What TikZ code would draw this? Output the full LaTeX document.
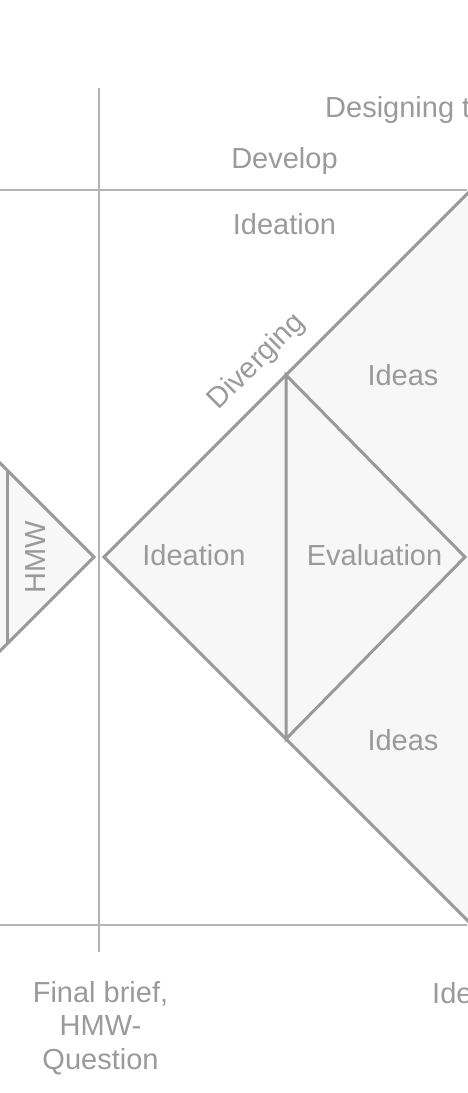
\documentclass[tikz,border=0pt]{standalone}
\usepackage{fontspec}
\setmainfont{Liberation Sans}
\definecolor{linegray}{HTML}{999999}
\definecolor{axisgray}{HTML}{B4B4B4}
\definecolor{fillgray}{HTML}{F7F7F7}
\definecolor{textgray}{HTML}{9A9A9A}
\tikzset{
  phase/.style={draw=linegray, line width=3pt, fill=fillgray, line join=miter},
  divider/.style={draw=linegray, line width=3pt},
  axis/.style={draw=axisgray, line width=1.3pt},
  lbl/.style={text=textgray, font=\fontsize{29}{33.5}\selectfont, inner sep=0pt, align=center},
}
\begin{document}
\begin{tikzpicture}[x=1pt,y=-1pt]
\useasboundingbox (0,0) rectangle (467,1093);
% grid lines
\coordinate (vTop) at (99,88);
\coordinate (vBot) at (99,952);
\draw[axis] (vTop) -- (vBot);
\draw[axis] (0,190) -- (467,190);
\draw[axis] (0,925) -- (467,925);
% converging part (HMW)
\coordinate (hmwTip) at (94,557);
\draw[phase] (hmwTip) -- (-120,343) -- (-120,771) -- cycle;
\draw[divider] (7,470) -- (7,644);
% diverging part (ideation)
\coordinate (ideaTip) at (104,557);
\coordinate (ideaTop) at (470.5,190.5);
\coordinate (ideaBot) at (470.5,923.5);
\draw[phase] (ideaTip) -- (ideaTop) -- (ideaBot) -- cycle;
\coordinate (evalTop) at (286,375);
\coordinate (evalTip) at (465,557);
\coordinate (evalBot) at (286,739);
\draw[phase] (evalTop) -- (evalTip) -- (evalBot) -- cycle;
% labels
\node[lbl, anchor=base west] (designing) at (325,117) {Designing t};
\node[lbl, anchor=base] (develop) at (284.5,168) {Develop};
\node[lbl, anchor=base] (ideationTop) at (284.5,234) {Ideation};
\node[lbl, rotate=45] (diverging) at (257,362) {Diverging};
\node[lbl, anchor=base] (ideasUp) at (403,385) {Ideas};
\node[lbl, anchor=base] (ideation) at (194,565) {Ideation};
\node[lbl, anchor=base] (evaluation) at (374.5,565) {Evaluation};
\node[lbl, anchor=base] (ideasDown) at (403,750) {Ideas};
\node[lbl, rotate=90] (hmw) at (36,557) {HMW};
\node[lbl, anchor=base] (brief) at (100.5,1069) {Final brief,\\HMW-\\Question};
\node[lbl, anchor=base west] (ide) at (432,1003) {Ide};
\end{tikzpicture}
\end{document}
